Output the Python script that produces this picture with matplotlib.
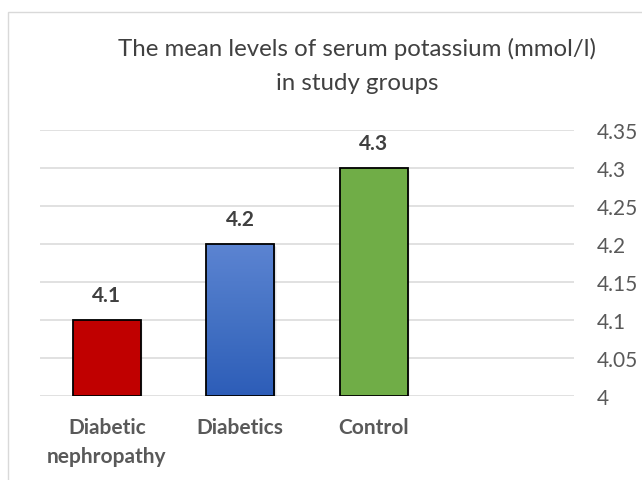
import numpy as np
import matplotlib
matplotlib.use("Agg")
import matplotlib.pyplot as plt
from matplotlib.patches import Rectangle
from matplotlib.colors import LinearSegmentedColormap

# data
groups = ["Diabetic\nnephropathy", "Diabetics", "Control", ""]
values = [4.1, 4.2, 4.3, None]
y_ticks = [4, 4.05, 4.1, 4.15, 4.2, 4.25, 4.3, 4.35]
y_tick_labels = ["4", "4.05", "4.1", "4.15", "4.2", "4.25", "4.3", "4.35"]
title = "The mean levels of serum potassium (mmol/l)\nin study groups"

plt.rcParams['font.family'] = ['Lato', 'DejaVu Sans']

fig = plt.figure(figsize=(6.42, 4.81), dpi=100)
ax = fig.add_axes([40/642, 1-397/481, 534/642, 266/481])

# outer chart frame (light grey, runs off the right/bottom edge)
fig.patches.append(Rectangle((8/642, -0.1), 1.2, 1-13/481+0.1, transform=fig.transFigure,
                             fill=False, edgecolor='#d9d9d9', linewidth=1.0))

x = np.arange(len(groups))
bar_w = 0.51
colors = ['#c00000', None, '#70ad47']
blue_cmap = LinearSegmentedColormap.from_list('bl', ['#2d5db8', '#4472c4', '#5c84d2'])

for i, v in enumerate(values):
    if v is None:
        continue
    # soft shadow
    for k, a in enumerate([0.10, 0.07, 0.04]):
        off = 0.006 * (k + 1)
        ax.add_patch(Rectangle((x[i] - bar_w/2 + off, 4 - 0.001), bar_w, v - 4 - 0.001 * (k + 1),
                               facecolor='black', alpha=a, edgecolor='none', zorder=2))
    if colors[i] is not None:
        ax.bar(x[i], v - 4, bottom=4, width=bar_w, color=colors[i], edgecolor='black',
               linewidth=1.3, zorder=3)
    else:
        b = ax.bar(x[i], v - 4, bottom=4, width=bar_w, color='none', edgecolor='black',
                   linewidth=1.3, zorder=4)[0]
        grad = np.linspace(0, 1, 256).reshape(-1, 1)
        im = ax.imshow(grad, cmap=blue_cmap, origin='lower', aspect='auto',
                       extent=[x[i] - bar_w/2, x[i] + bar_w/2, 4, v], zorder=3)
        im.set_clip_path(b)
    ax.annotate(f"{v}", (x[i], v), xytext=(0, 18), textcoords='offset points',
                ha='center', va='center', fontsize=15, fontweight='bold', color='#404040')

ax.set_xlim(-0.5, len(groups) - 0.5)
ax.set_ylim(4, 4.35)
ax.set_yticks(y_ticks)
ax.set_yticklabels(y_tick_labels)
ax.yaxis.tick_right()
ax.tick_params(axis='y', length=0, pad=16.5, labelsize=15, labelcolor='#595959')
ax.set_xticks(x)
ax.set_xticklabels(groups, fontsize=15, fontweight='bold', color='#595959', linespacing=1.6)
ax.tick_params(axis='x', length=0, pad=15)
ax.grid(axis='y', color='#d9d9d9', linewidth=1.1, zorder=0)
ax.set_axisbelow(True)
for s in ax.spines.values():
    s.set_visible(False)

fig.text(357/642, 1-66/481, title, ha='center', va='center', fontsize=17.3,
         color='#404040', linespacing=1.75)

fig.savefig("out.png", dpi=100)
